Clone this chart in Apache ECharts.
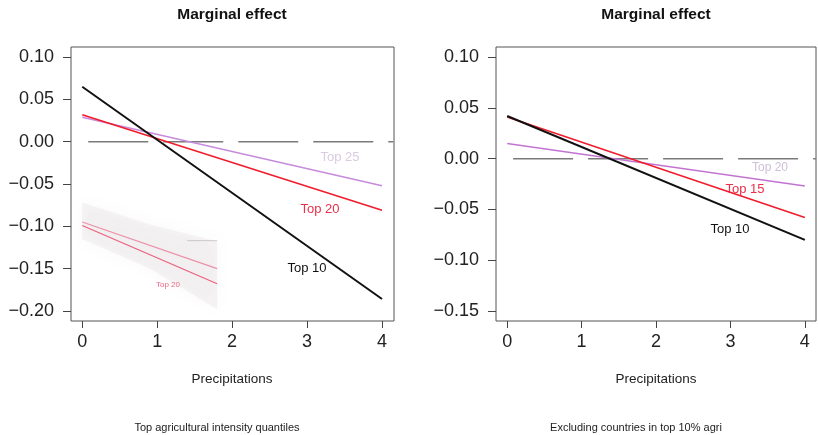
<!DOCTYPE html>
<html>
<head>
<meta charset="utf-8">
<script src="https://cdn.jsdelivr.net/npm/echarts@6/dist/echarts.min.js"></script>
<style>
  html, body { margin: 0; padding: 0; background: #fff; }
  #chart { width: 818px; height: 435px; }
</style>
</head>
<body>
<div id="chart"></div>
<script>
const font = 'Liberation Sans, Arial, sans-serif'

const precip = [0, 4]
const xTicks = [0, 1, 2, 3, 4]
const yTicksLeft = [-0.2, -0.15, -0.1, -0.05, 0, 0.05, 0.1]
const yTicksRight = [-0.15, -0.1, -0.05, 0, 0.05, 0.1]
const zeroX = [0.08, 4.15]
const zeroY = [0, 0]

// left panel - top agricultural intensity quantiles
const top10Left = [0.065, -0.186]
const top20Left = [0.032, -0.081]
const top25Left = [0.029, -0.052]

// faded inset left over in the left panel
const insetX = [0, 1.8]
const insetLineA = [-0.095, -0.150]
const insetLineB = [-0.099, -0.168]
const insetBandX = [0, 0.9, 1.8, 1.8, 0.9, 0]
const insetBandY = [-0.072, -0.098, -0.118, -0.198, -0.150, -0.115]
const insetRefX = [1.4, 1.8]
const insetRefY = [-0.117, -0.117]

// right panel - excluding countries in top 10% agri
const top10Right = [0.042, -0.080]
const top15Right = [0.041, -0.058]
const top20Right = [0.015, -0.027]

const pts = (xs, ys) => xs.map((x, i) => [x, ys[i]])
const minus = v => (v < 0 ? '\u2212' : '') + Math.abs(v).toFixed(2)

function xAxisOf(gridIndex, min, max) {
  return {
    type: 'value', gridIndex, min, max,
    splitLine: { show: false },
    axisLine: { show: false, onZero: false },
    axisTick: { show: true, customValues: xTicks, length: 7, lineStyle: { color: '#444' } },
    axisLabel: { customValues: xTicks, fontSize: 18, color: '#222', margin: 12, fontFamily: font }
  }
}
function yAxisOf(gridIndex, min, max, ticks) {
  return {
    type: 'value', gridIndex, min, max,
    splitLine: { show: false },
    axisLine: { show: false, onZero: false },
    axisTick: { show: true, customValues: ticks, length: 8, lineStyle: { color: '#444' } },
    axisLabel: { customValues: ticks, fontSize: 18, color: '#222', margin: 17, fontFamily: font, formatter: minus }
  }
}
function line(idx, data, color, width) {
  return {
    type: 'line', xAxisIndex: idx, yAxisIndex: idx, data,
    symbol: 'none', silent: true, animation: false,
    lineStyle: { color, width }
  }
}
function zeroLine(idx) {
  const s = line(idx, pts(zeroX, zeroY), '#7a7a7a', 1.5)
  s.lineStyle.type = [60, 15]
  return s
}
function txt(x, y, text, size, color, weight) {
  return {
    type: 'text', x, y,
    style: { text, fontSize: size, fill: color, fontWeight: weight || 'normal', fontFamily: font, align: 'center', verticalAlign: 'middle' }
  }
}

const chart = echarts.init(document.getElementById('chart'))
const band = pts(insetBandX, insetBandY)

chart.setOption({
  animation: false,
  grid: [
    { left: 71, top: 47, width: 323, height: 274, show: true, borderColor: '#555', borderWidth: 1 },
    { left: 496, top: 47, width: 320, height: 274, show: true, borderColor: '#555', borderWidth: 1 }
  ],
  xAxis: [xAxisOf(0, -0.15, 4.16), xAxisOf(1, -0.15, 4.15)],
  yAxis: [yAxisOf(0, -0.212, 0.112, yTicksLeft), yAxisOf(1, -0.16, 0.11, yTicksRight)],
  series: [
    {
      type: 'custom', xAxisIndex: 0, yAxisIndex: 0, data: band, silent: true,
      renderItem: (params, api) => {
        if (params.dataIndex !== 0) return
        return {
          type: 'polygon',
          shape: { points: band.map(p => api.coord(p)) },
          style: { fill: 'rgba(190,180,185,0.14)', shadowBlur: 16, shadowColor: 'rgba(180,170,175,0.5)' }
        }
      }
    },
    line(0, pts(insetX, insetLineA), 'rgba(232,80,120,0.6)', 1.2),
    line(0, pts(insetX, insetLineB), 'rgba(232,60,100,0.8)', 1.2),
    line(0, pts(insetRefX, insetRefY), 'rgba(150,150,150,0.45)', 1),
    zeroLine(0),
    line(0, pts(precip, top25Left), '#c78bdc', 1.5),
    line(0, pts(precip, top20Left), '#f01c2c', 1.6),
    line(0, pts(precip, top10Left), '#111', 2),
    zeroLine(1),
    line(1, pts(precip, top20Right), '#c374d2', 1.5),
    line(1, pts(precip, top15Right), '#f01c2c', 1.6),
    line(1, pts(precip, top10Right), '#111', 2)
  ],
  graphic: [
    txt(232, 15, 'Marginal effect', 15.5, '#111', 'bold'),
    txt(656, 15, 'Marginal effect', 15.5, '#111', 'bold'),
    txt(232, 379, 'Precipitations', 13.5, '#222'),
    txt(656, 379, 'Precipitations', 13.5, '#222'),
    txt(217, 428, 'Top agricultural intensity quantiles', 11, '#222'),
    txt(636, 428, 'Excluding countries in top 10% agri', 11, '#222'),
    txt(340, 157, 'Top 25', 13, '#dacbe0'),
    txt(320, 209, 'Top 20', 13, '#e8304a'),
    txt(307, 268, 'Top 10', 13, '#111'),
    txt(168, 285, 'Top 20', 8, 'rgba(232,60,100,0.8)'),
    txt(770, 168, 'Top 20', 12, '#cfbfd8'),
    txt(745, 189, 'Top 15', 13, '#e8304a'),
    txt(730, 229, 'Top 10', 13, '#111')
  ]
})
</script>
</body>
</html>
